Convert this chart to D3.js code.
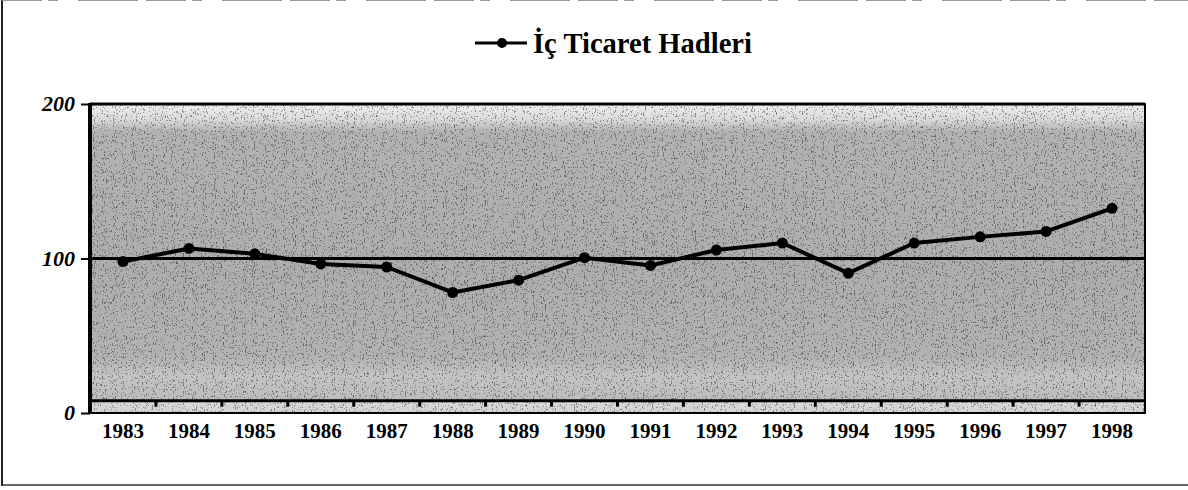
<!DOCTYPE html>
<html>
<head>
<meta charset="utf-8">
<script src="https://cdn.jsdelivr.net/npm/d3@7"></script>
<style>
  html, body { margin: 0; padding: 0; background: #fff; }
  svg { display: block; }
</style>
</head>
<body>
<svg id="chart" width="1188" height="490"></svg>
<script>
const years = ["1983","1984","1985","1986","1987","1988","1989","1990","1991","1992","1993","1994","1995","1996","1997","1998"];
const icTicaretHadleri = [98, 106.5, 103, 96.5, 94.5, 78, 86, 100.5, 95.5, 105.5, 110, 90.5, 110, 114, 117.5, 132.5];
const yTicks = [0, 100, 200];
const seriesName = "İç Ticaret Hadleri";
const axisLineValue = 8;

const svg = d3.select("#chart");
const W = 1188, H = 490;
const m = { left: 90, right: 43, top: 104, bottom: 77 };
const iw = W - m.left - m.right, ih = H - m.top - m.bottom;

const x = d3.scaleBand().domain(years).range([m.left, m.left + iw]).padding(0);
const y = d3.scaleLinear().domain([0, 200]).range([m.top + ih, m.top]);

const defs = svg.append("defs");
const grad = defs.append("linearGradient").attr("id", "bg").attr("x1", 0).attr("y1", 0).attr("x2", 0).attr("y2", 1);
[[0, "#eeeeee"], [0.05, "#dadada"], [0.09, "#b2b2b2"], [0.55, "#adadad"], [0.82, "#b2b2b2"], [0.88, "#c4c4c4"], [0.955, "#bcbcbc"], [0.96, "#d8d8d8"], [1, "#d2d2d2"]]
  .forEach(([o, c]) => grad.append("stop").attr("offset", o).attr("stop-color", c));

const f = defs.append("filter").attr("id", "noise").attr("x", 0).attr("y", 0).attr("width", "100%").attr("height", "100%");
f.append("feTurbulence").attr("type", "fractalNoise").attr("baseFrequency", "0.9 0.45").attr("numOctaves", 2).attr("seed", 3).attr("result", "t");
f.append("feColorMatrix").attr("in", "t").attr("type", "matrix")
  .attr("values", "0 0 0 0 0  0 0 0 0 0  0 0 0 0 0  -1.8 0 0 0 1.15").attr("result", "dark");
f.append("feComponentTransfer").attr("in", "dark").append("feFuncA").attr("type", "discrete").attr("tableValues", "0 0 0.6 0.95");

// outer frame
svg.append("line").attr("x1", 2).attr("x2", 2).attr("y1", 0).attr("y2", 486).attr("stroke", "#222").attr("stroke-width", 2);
svg.append("line").attr("x1", 2).attr("x2", 1188).attr("y1", 485).attr("y2", 485).attr("stroke", "#333").attr("stroke-width", 1.5);
svg.append("line").attr("x1", 2).attr("x2", 1188).attr("y1", 0.5).attr("y2", 0.5).attr("stroke", "#999").attr("stroke-width", 1).attr("stroke-dasharray", "40 6 10 20 60 8");

// plot background
svg.append("rect").attr("x", m.left).attr("y", m.top).attr("width", iw).attr("height", ih).attr("fill", "url(#bg)");
svg.append("rect").attr("x", m.left).attr("y", m.top).attr("width", iw).attr("height", ih).attr("fill", "#fff").attr("filter", "url(#noise)").attr("opacity", 0.55);

// gridline at 100
svg.append("line").attr("x1", m.left).attr("x2", m.left + iw).attr("y1", y(100)).attr("y2", y(100)).attr("stroke", "#000").attr("stroke-width", 3);

// category axis line with ticks
const axY = y(axisLineValue);
svg.append("line").attr("x1", m.left).attr("x2", m.left + iw).attr("y1", axY).attr("y2", axY).attr("stroke", "#000").attr("stroke-width", 3);
svg.append("g").selectAll("line").data(years.slice(1)).join("line")
  .attr("x1", d => x(d)).attr("x2", d => x(d)).attr("y1", axY).attr("y2", axY + 6)
  .attr("stroke", "#000").attr("stroke-width", 3);

// frame
svg.append("rect").attr("x", m.left).attr("y", m.top).attr("width", iw).attr("height", ih).attr("fill", "none").attr("stroke", "#000").attr("stroke-width", 2);
svg.append("line").attr("x1", m.left).attr("x2", m.left).attr("y1", m.top - 1).attr("y2", m.top + ih + 1).attr("stroke", "#000").attr("stroke-width", 4);
svg.append("line").attr("x1", m.left).attr("x2", m.left + iw).attr("y1", m.top).attr("y2", m.top).attr("stroke", "#000").attr("stroke-width", 3);

// y axis
const yAxis = d3.axisLeft(y).tickValues(yTicks).tickSize(9).tickPadding(6);
const gy = svg.append("g").attr("transform", `translate(${m.left},0)`).call(yAxis);
gy.select(".domain").remove();
gy.selectAll(".tick line").attr("stroke", "#000").attr("stroke-width", 2);
gy.selectAll(".tick text").attr("font-family", "'Liberation Serif', serif").attr("font-weight", "bold")
  .attr("font-style", "italic").attr("font-size", 22).attr("fill", "#000").attr("dy", "0.3em");

// x labels
const xAxis = d3.axisBottom(x).tickSize(0);
const gx = svg.append("g").attr("transform", `translate(0,${m.top + ih})`).call(xAxis);
gx.select(".domain").remove();
gx.selectAll(".tick text").attr("font-family", "'Liberation Serif', serif").attr("font-weight", "bold")
  .attr("font-size", 21).attr("fill", "#000").attr("dy", 0).attr("y", 25);

// series line
const line = d3.line().x((d, i) => x(years[i]) + x.bandwidth() / 2).y(d => y(d));
svg.append("path").datum(icTicaretHadleri).attr("d", line).attr("fill", "none").attr("stroke", "#000")
  .attr("stroke-width", 4).attr("stroke-linejoin", "round");
svg.append("g").selectAll("circle").data(icTicaretHadleri).join("circle")
  .attr("cx", (d, i) => x(years[i]) + x.bandwidth() / 2).attr("cy", d => y(d)).attr("r", 5.5).attr("fill", "#000");

// legend / title
const lg = svg.append("g");
lg.append("line").attr("x1", 475).attr("x2", 527).attr("y1", 43).attr("y2", 43).attr("stroke", "#000").attr("stroke-width", 3);
lg.append("circle").attr("cx", 502).attr("cy", 43).attr("r", 5).attr("fill", "#000");
lg.append("text").attr("x", 533).attr("y", 53).text(seriesName)
  .attr("font-family", "'Liberation Serif', serif").attr("font-weight", "bold").attr("font-size", 29)
  .attr("textLength", 219).attr("lengthAdjust", "spacingAndGlyphs").attr("fill", "#000");
</script>
</body>
</html>
